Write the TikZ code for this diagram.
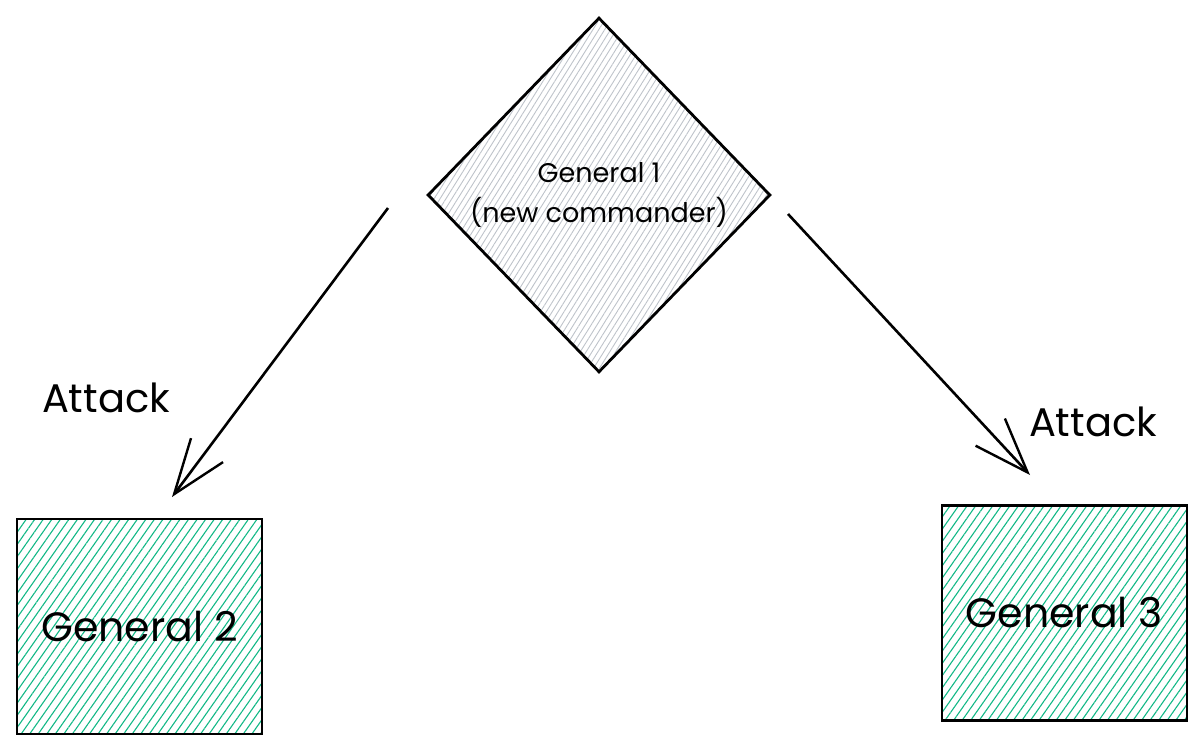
\documentclass[tikz,border=0pt]{standalone}
\usepackage{fontspec}
\setmainfont{Poppins}
\usetikzlibrary{shapes.geometric,arrows.meta,patterns.meta}
\definecolor{hatchgreen}{RGB}{18,184,134}
\definecolor{hatchgray}{RGB}{190,195,202}
\tikzset{
  genbox/.style={draw=black, line width=2.8pt, rectangle, inner sep=0pt,
    minimum width=245pt, minimum height=215pt,
    pattern={Lines[angle=55,distance=7pt,line width=1.1pt]}, pattern color=hatchgreen,
    font=\fontsize{41}{46}\selectfont},
  cmdbox/.style={draw=black, line width=2.8pt, diamond, inner sep=0pt,
    minimum width=342pt, minimum height=354pt,
    pattern={Lines[angle=58,distance=5pt,line width=0.9pt]}, pattern color=hatchgray,
    align=center, font=\fontsize{27}{40}\selectfont},
  lbl/.style={font=\fontsize{40}{44}\selectfont, inner sep=0pt},
  arr/.style={line width=2.6pt, -{Straight Barb[length=55pt,width=40pt,line width=2.4pt]}}
}
\begin{document}
\begin{tikzpicture}[x=1pt,y=-1pt]
\useasboundingbox (0,0) rectangle (1202,752);
\node[cmdbox] (g1) at (599,195) {General 1\\(new commander)};
\node[genbox] (g2) at (139.5,626.5) {General 2};
\node[genbox] (g3) at (1064.5,613) {General 3};
\coordinate (s1) at (388,208);
\coordinate (e1) at (172,497);
\coordinate (s2) at (788,214);
\coordinate (e2) at (1030,475);
\draw[arr] (s1) -- (e1);
\draw[arr] (s2) -- (e2);
\node[lbl] (l1) at (106,398) {Attack};
\node[lbl] (l2) at (1093,422) {Attack};
\end{tikzpicture}
\end{document}
